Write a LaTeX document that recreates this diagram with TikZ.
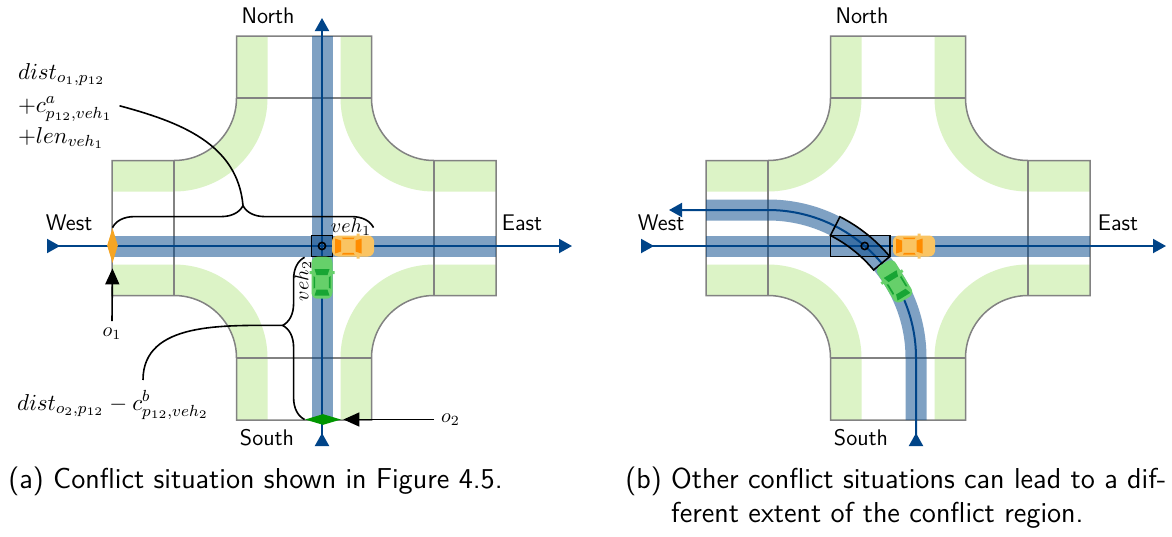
\RequirePackage{fix-cm}
\documentclass[tikz,border=0pt]{standalone}
\usepackage{amsmath}
\usepackage{tikz}
\usetikzlibrary{calc,arrows.meta,shapes.geometric,decorations.pathreplacing}

\definecolor{roadblue}{RGB}{0,68,136}
\definecolor{turngreen}{RGB}{220,243,198}
\definecolor{curbgray}{RGB}{130,130,130}
\definecolor{carorange}{RGB}{250,196,98}
\definecolor{carorangedark}{RGB}{255,140,0}
\definecolor{cargreen}{RGB}{102,208,106}
\definecolor{cargreendark}{RGB}{24,165,52}
\definecolor{markorange}{RGB}{245,165,35}
\definecolor{markgreen}{RGB}{0,150,0}

\tikzset{
  turnlane/.style={turngreen,line width=15.5pt},
  lane/.style={roadblue,draw opacity=.5,line width=10.5pt},
  route/.style={roadblue,line width=1pt,
    {Triangle[reversed,length=6.5pt,width=7pt]}-{Triangle[length=6.5pt,width=7pt]}},
  curb/.style={curbgray,line width=.75pt},
  cline/.style={black,line width=.8pt},
  cbox/.style={draw,line width=.8pt,inner sep=0pt},
  cpoint/.style={circle,draw,line width=.8pt,inner sep=0pt,minimum size=3.6pt},
  pointer/.style={line width=.8pt,-{Triangle[length=8pt,width=7pt]}},
  dirlabel/.style={font=\sffamily\fontsize{11.3}{13}\selectfont},
  distlabel/.style={font=\fontsize{11.5}{13.5}\selectfont},
  caption/.style={font=\sffamily\fontsize{14.4}{17}\selectfont,inner sep=0pt},
  mybrace/.style={decorate,decoration={brace,amplitude=11pt,#1},line width=.8pt},
  mybrace/.default={aspect=.5},
  % the crossing: turn lanes, kerb and arm borders
  pics/crossing/.style={code={
    \foreach \sx/\sy in {1/1,1/-1,-1/1,-1/-1}
      \draw[turnlane,xscale=\sx,yscale=\sy] (52,192) -- (52,130)
        arc[start angle=180,end angle=270,radius=78] -- (192,52);
    \draw[curb] (-67.5,192) -- (67.5,192) -- (67.5,130)
      arc[start angle=180,end angle=270,radius=62.5] -- (192,67.5) -- (192,-67.5) -- (130,-67.5)
      arc[start angle=90,end angle=180,radius=62.5] -- (67.5,-192) -- (-67.5,-192) -- (-67.5,-130)
      arc[start angle=0,end angle=90,radius=62.5] -- (-192,-67.5) -- (-192,67.5) -- (-130,67.5)
      arc[start angle=-90,end angle=0,radius=62.5] -- cycle;
    \draw[curb] (-67.5,130) -- (67.5,130) (130,67.5) -- (130,-67.5)
      (-67.5,-130) -- (67.5,-130) (-130,67.5) -- (-130,-67.5);
  }},
  % top view of a car, heading in +x
  pics/car/.style 2 args={code={
    \fill[#1,rounded corners=3pt] (-21,-10.5) rectangle (21,10.5);
    \fill[#1] (3.5,10) rectangle (6.5,12.5) (3.5,-10) rectangle (6.5,-12.5);
    \fill[#2] (2.5,-5.5) -- (8.5,-7.5) -- (8.5,7.5) -- (2.5,5.5) -- cycle;
    \fill[#2] (-18,-7.5) -- (-12,-5.5) -- (-12,5.5) -- (-18,7.5) -- cycle;
    \fill[#2] (-11,8.5) -- (1.5,8.5) -- (0.5,6.8) -- (-10,6.8) -- cycle;
    \fill[#2] (-11,-8.5) -- (1.5,-8.5) -- (0.5,-6.8) -- (-10,-6.8) -- cycle;
  }}
}

\begin{document}
\begin{tikzpicture}[x=0.5pt,y=0.5pt]
\useasboundingbox[fill=white] (0,0) rectangle (1172,-536);

% (a) both vehicles go straight
\begin{scope}[shift={(304,-228)}]
  \pic {crossing};
  \draw[lane] (-192,-18) -- (192,-18);
  \draw[lane] (18,-192) -- (18,192);
  \draw[route] (-257,-18) -- (268,-18);
  \draw[route] (18,-218) -- (18,210);
  \node[cbox,minimum size=10.5pt] (pA) at (18,-18) {};
  \node[cpoint] (cA) at (18,-18) {};
  \pic at (49,-18) {car={carorange}{carorangedark}};
  \pic[rotate=90] at (18,-49.7) {car={cargreen}{cargreendark}};

  \node[dirlabel] (northA) at (-36,212) {North};
  \node[dirlabel] (southA) at (-37,-210) {South};
  \node[dirlabel] (westA) at (-235,5) {West};
  \node[dirlabel] (eastA) at (218,5) {East};

  \node[diamond,fill=markorange,inner sep=0pt,minimum width=5.5pt,minimum height=17.5pt] (dmA) at (-191.5,-17.5) {};
  \node[diamond,fill=markgreen,inner sep=0pt,minimum width=18pt,minimum height=5.5pt] (dmB) at (19,-191.5) {};
  \node (o1) at (-192,-106) {$o_1$};
  \node[anchor=west] (o2) at (130,-191.5) {$o_2$};
  \draw[pointer,shorten >=2.5pt] (o1.north) -- (dmA.south);
  \draw[pointer,shorten >=1pt] (o2.west) -- (dmB.east);

  \node (vehA) at (47,1) {$veh_1$};
  \node[rotate=90] (vehB) at (-1,-53) {$veh_2$};

  % distances to the conflict region
  \draw[mybrace] (dmA.north) -- ++(261,0) coordinate[pos=.5,yshift=11pt] (tipA);
  \draw[mybrace={aspect=.58}] (dmB.west) -- (dmB.west |- pA.south) coordinate[pos=.58,xshift=-11pt] (tipB);
  \node[distlabel,anchor=north west,align=left] (lblA) at (-293,172)
    {$dist_{o_1,p_{12}}$\\[3pt] $+c^a_{p_{12},veh_1}$\\[2pt] $+len_{veh_1}$};
  \node[distlabel,anchor=base west] (lblB) at (-294,-182) {$dist_{o_2,p_{12}} - c^b_{p_{12},veh_2}$};
  \coordinate (lblBtop) at (-161,-152);
  \draw[cline] (tipA) to[out=95,in=-15] (lblA.east);
  \draw[cline] (tipB) to[out=180,in=90] (lblBtop);
\end{scope}

% (b) veh_2 turns left
\begin{scope}[shift={(898,-228)}]
  \pic {crossing};
  \draw[lane] (-192,-18) -- (192,-18);
  \draw[lane] (18,-192) -- (18,-130) arc[start angle=0,end angle=90,radius=148] -- (-192,18);
  \draw[route] (-257,-18) -- (268,-18);
  \draw[route] (18,-218) -- (18,-130) arc[start angle=0,end angle=90,radius=148] -- (-229,18);
  \node[cbox,minimum width=29.65pt,minimum height=10.5pt] (pB) at (-37.95,-18) {};
  \draw[cline] ([shift={(-130,-130)}]39.8:137.5) arc[start angle=39.8,end angle=63,radius=137.5]
    -- ([shift={(-130,-130)}]63:158.5) arc[start angle=63,end angle=39.8,radius=158.5] -- cycle;
  \node[cpoint] (cB) at ([shift={(-130,-130)}]49.2:148) {};
  \pic at (16,-18) {car={carorange}{carorangedark}};
  \pic[rotate=121.2] at ([shift={(-130,-130)}]31.2:148) {car={cargreen}{cargreendark}};

  \node[dirlabel] (northB) at (-36,212) {North};
  \node[dirlabel] (southB) at (-37,-210) {South};
  \node[dirlabel] (westB) at (-237,5) {West};
  \node[dirlabel] (eastB) at (220,5) {East};
\end{scope}

\node[caption,anchor=base west] (capA) at (8,-488) {(a) Conflict situation shown in Figure 4.5.};
\node[caption,anchor=base west] (capB) at (625,-488)
  {\begin{tabular}[t]{@{}l@{\ }l@{}}(b) & Other conflict situations can lead to a dif-\\
   & ferent extent of the conflict region.\end{tabular}};
\end{tikzpicture}
\end{document}
